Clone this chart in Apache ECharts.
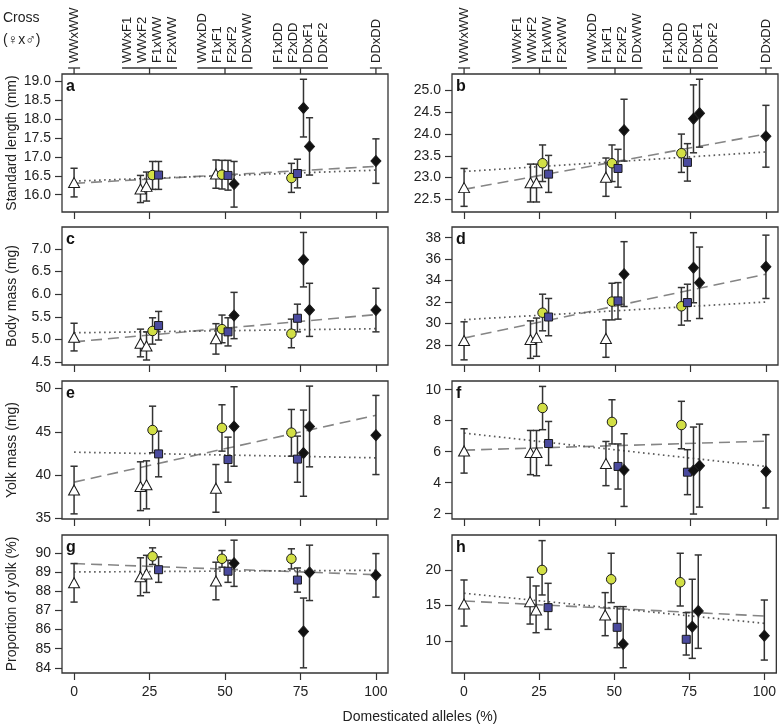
<!DOCTYPE html>
<html><head><meta charset="utf-8">
<script src="https://cdn.jsdelivr.net/npm/echarts@6/dist/echarts.min.js"></script>
<style>html,body{margin:0;padding:0;background:#fff}#c{width:779px;height:725px}</style>
</head><body><div id="c"></div><script>
// ---------- data ----------
const crosses = ['WWxWW','WWxF1','WWxF2','F1xWW','F2xWW','WWxDD','F1xF1','F2xF2','DDxWW','F1xDD','F2xDD','DDxF1','DDxF2','DDxDD'];
const xPos    = [0, 22, 24, 26, 28, 47, 49, 51, 53, 72, 74, 76, 78, 100];
const marker  = ['tri','tri','tri','circ','sq','tri','circ','sq','dia','circ','sq','dia','dia','dia'];
const xTicks  = [0, 25, 50, 75, 100];
const groupX  = [0, 25, 50, 75, 100];
const groupLabels = [['WWxWW'],['WWxF1','WWxF2','F1xWW','F2xWW'],['WWxDD','F1xF1','F2xF2','DDxWW'],['F1xDD','F2xDD','DDxF1','DDxF2'],['DDxDD']];
const trendX  = [0, 100];

// a: standard length (left)
const meanA = [16.32,16.15,16.22,16.52,16.52,16.55,16.53,16.51,16.28,16.44,16.56,18.30,17.28,16.89];
const lowA  = [15.94,15.79,15.83,16.14,16.14,16.17,16.15,16.12,15.67,16.06,16.18,17.53,16.52,16.30];
const highA = [16.70,16.51,16.60,16.88,16.88,16.92,16.91,16.91,16.88,16.83,16.94,19.06,18.04,17.48];
const dashA = [16.30,16.75], dotA = [16.36,16.65];
const ticksA = [16.0,16.5,17.0,17.5,18.0,18.5,19.0];
// b: standard length (right)
const meanB = [22.77,22.88,22.88,23.33,23.08,23.01,23.33,23.21,24.09,23.56,23.35,24.35,24.48,23.95];
const lowB  = [22.34,22.44,22.44,22.91,22.66,22.57,22.91,22.78,23.38,23.12,22.92,23.57,23.70,23.24];
const highB = [23.21,23.31,23.31,23.75,23.51,23.45,23.75,23.65,24.80,24.00,23.78,25.13,25.26,24.66];
const dashB = [22.73,24.00], dotB = [23.14,23.59];
const ticksB = [22.5,23.0,23.5,24.0,24.5,25.0];
// c: body mass (left)
const meanC = [5.05,4.92,4.86,5.19,5.31,5.02,5.23,5.17,5.53,5.13,5.47,6.76,5.65,5.65];
const lowC  = [4.75,4.62,4.55,4.90,4.99,4.68,4.93,4.86,5.02,4.82,5.17,6.16,5.07,5.17];
const highC = [5.36,5.23,5.17,5.48,5.62,5.35,5.54,5.48,6.04,5.45,5.78,7.36,6.24,6.13];
const dashC = [4.95,5.55], dotC = [5.15,5.24];
const ticksC = [4.5,5.0,5.5,6.0,6.5,7.0];
// d: body mass (right)
const meanD = [28.4,28.5,28.7,31.0,30.6,28.6,32.04,32.1,34.6,31.6,31.95,35.2,33.8,35.3];
const lowD  = [26.6,26.74,26.93,29.31,28.85,26.84,30.33,30.4,31.58,29.84,30.24,31.93,30.46,32.33];
const highD = [30.15,30.24,30.5,32.73,32.33,30.33,33.75,33.81,37.63,33.35,33.66,38.47,37.13,38.24];
const dashD = [28.63,34.6], dotD = [30.35,32.0];
const ticksD = [28,30,32,34,36,38];
// e: yolk mass (left)
const meanE = [38.3,38.7,38.9,45.2,42.45,38.5,45.45,41.8,45.6,44.9,41.85,42.55,45.6,44.6];
const lowE  = [35.54,35.92,36.12,42.58,39.81,35.73,42.77,39.19,41.03,42.19,39.19,37.57,40.96,40.07];
const highE = [41.03,41.54,41.65,47.95,45.07,41.23,48.11,44.38,50.19,47.57,44.5,47.5,50.26,49.19];
const dashE = [39.2,46.9], dotE = [42.65,42.0];
const ticksE = [35,40,45,50];
// f: yolk mass (right)
const meanF = [6.05,5.95,5.95,8.82,6.53,5.24,7.92,5.05,4.82,7.72,4.68,4.79,5.1,4.73];
const lowF  = [4.62,4.52,4.45,7.42,5.12,3.81,6.5,3.59,2.47,6.19,3.23,1.98,2.43,2.37];
const highF = [7.48,7.37,7.37,10.21,7.95,6.66,9.35,6.5,7.16,9.25,6.13,7.59,7.78,7.1];
const dashF = [6.1,6.68], dotF = [7.2,5.05];
const ticksF = [2,4,6,8,10];
// g: proportion of yolk (left)
const meanG = [88.44,88.75,88.9,89.82,89.12,88.53,89.69,89.04,89.46,89.69,88.58,85.9,88.98,88.83];
const lowG  = [87.43,87.76,87.93,89.39,88.46,87.55,89.25,88.46,88.25,89.16,87.95,84.0,87.51,87.69];
const highG = [89.44,89.74,89.87,90.26,89.79,89.51,90.12,89.61,90.66,90.21,89.21,87.64,90.4,89.96];
const dashG = [89.44,88.86], dotG = [89.0,89.09];
const ticksG = [84,85,86,87,88,89,90];
// h: proportion of yolk (right)
const meanH = [15.21,15.54,14.37,20.0,14.7,13.66,18.69,11.93,9.58,18.27,10.24,12.01,14.23,10.75];
const lowH  = [12.11,12.39,11.17,16.48,11.64,10.75,15.4,9.06,6.24,14.93,8.03,7.56,8.97,7.32];
const highH = [18.59,18.97,17.75,24.13,18.12,16.81,22.35,14.84,14.84,22.35,13.99,18.69,22.11,15.77];
const dashH = [15.63,13.52], dotH = [16.72,12.49];
const ticksH = [10,15,20];

const panelLetters = ['a','b','c','d','e','f','g','h'];
const yNames = ['Standard length (mm)','','Body mass (mg)','','Yolk mass (mg)','','Proportion of yolk (%)',''];
const xTitle = 'Domesticated alleles (%)';

// ---------- layout / style ----------
const FF = '"Liberation Sans", Arial, Helvetica, sans-serif';
const TXT = '#222';
const colLeft = [62, 452], plotW = 326;
const rowTop = [74, 227, 381, 535], plotH = 138;
const xRange = [-4, 104];
const yRanges = [[15.54,19.2],[22.21,25.38],[4.44,7.48],[26.12,39.0],[34.95,50.85],[1.66,10.56],[83.73,90.93],[5.5,24.92]];
const decs = [1,1,1,0,0,0,0,0];
const symMap = {tri:'triangle', circ:'circle', sq:'rect', dia:'diamond'};
const sizeMap = {tri:[11,10], circ:9.5, sq:8, dia:[10,11]};
const fillMap = {tri:'#ffffff', circ:'#d2df45', sq:'#4a4a9e', dia:'#111111'};

const panels = [
  {mean:meanA, low:lowA, high:highA, dash:dashA, dot:dotA, ticks:ticksA},
  {mean:meanB, low:lowB, high:highB, dash:dashB, dot:dotB, ticks:ticksB},
  {mean:meanC, low:lowC, high:highC, dash:dashC, dot:dotC, ticks:ticksC},
  {mean:meanD, low:lowD, high:highD, dash:dashD, dot:dotD, ticks:ticksD},
  {mean:meanE, low:lowE, high:highE, dash:dashE, dot:dotE, ticks:ticksE},
  {mean:meanF, low:lowF, high:highF, dash:dashF, dot:dotF, ticks:ticksF},
  {mean:meanG, low:lowG, high:highG, dash:dashG, dot:dotG, ticks:ticksG},
  {mean:meanH, low:lowH, high:highH, dash:dashH, dot:dotH, ticks:ticksH}
];

const grids = [], xAxes = [], yAxes = [], series = [], graphics = [];
const tickStyle = {color:'#333', width:1.2};

panels.forEach((p, k) => {
  const r = Math.floor(k / 2), c = k % 2;
  grids.push({left: colLeft[c], top: rowTop[r], width: plotW, height: plotH,
    show: true, borderColor: '#333', borderWidth: 1.3, backgroundColor: 'transparent'});
  xAxes.push({gridIndex:k, type:'value', min:xRange[0], max:xRange[1], position:'bottom',
    axisLine:{show:false, onZero:false}, splitLine:{show:false},
    axisTick:{show:true, inside:false, customValues:xTicks, length:7, lineStyle:tickStyle},
    axisLabel:{show: r === 3, customValues:xTicks, margin:12, fontSize:14, color:TXT, fontFamily:FF}});
  const dec = decs[k];
  yAxes.push({gridIndex:k, type:'value', min:yRanges[k][0], max:yRanges[k][1], position:'left',
    axisLine:{show:false, onZero:false}, splitLine:{show:false},
    axisTick:{show:true, inside:false, customValues:p.ticks, length:7, lineStyle:tickStyle},
    axisLabel:{customValues:p.ticks, formatter: v => Number(v).toFixed(dec), margin:11, fontSize:14, color:TXT, fontFamily:FF},
    name: yNames[k], nameLocation:'middle', nameGap:43, nameRotate:90,
    nameTextStyle:{fontSize:14, color:TXT, fontFamily:FF}});

  // trend lines
  series.push({type:'line', xAxisIndex:k, yAxisIndex:k, silent:true, symbol:'none', z:2,
    data: trendX.map((x, i) => [x, p.dash[i]]),
    lineStyle:{color:'#858585', width:1.6, type:[11,6]}});
  series.push({type:'line', xAxisIndex:k, yAxisIndex:k, silent:true, symbol:'none', z:2,
    data: trendX.map((x, i) => [x, p.dot[i]]),
    lineStyle:{color:'#5a5a5a', width:1.7, type:[1.6,3.4]}});

  // error bars
  series.push({type:'custom', xAxisIndex:k, yAxisIndex:k, silent:true, clip:false, z:3,
    data: xPos.map((x, i) => [x, p.low[i], p.high[i]]),
    encode:{x:0, y:[1,2]},
    renderItem: (params, api) => {
      const x = api.value(0);
      const lo = api.coord([x, api.value(1)]);
      const hi = api.coord([x, api.value(2)]);
      const st = {stroke:'#333', lineWidth:1.5};
      return {type:'group', children:[
        {type:'line', shape:{x1:lo[0], y1:lo[1], x2:hi[0], y2:hi[1]}, style:st},
        {type:'line', shape:{x1:lo[0]-3.6, y1:lo[1], x2:lo[0]+3.6, y2:lo[1]}, style:st},
        {type:'line', shape:{x1:hi[0]-3.6, y1:hi[1], x2:hi[0]+3.6, y2:hi[1]}, style:st}
      ]};
    }});

  // points
  series.push({type:'scatter', xAxisIndex:k, yAxisIndex:k, z:4, silent:true,
    data: xPos.map((x, i) => ({
      value:[x, p.mean[i]], name: crosses[i],
      symbol: symMap[marker[i]], symbolSize: sizeMap[marker[i]],
      itemStyle:{color: fillMap[marker[i]], borderColor:'#1a1a1a', borderWidth:1, opacity:1}
    }))});

  // panel letter
  graphics.push({type:'text', left: colLeft[c] + 4, top: rowTop[r] + 5,
    style:{text: panelLetters[k], font:'bold 16px ' + FF, fill:'#111'}});

  // top cross annotations on top row
  if (r === 0) {
    series.push({type:'custom', xAxisIndex:k, yAxisIndex:k, silent:true, clip:false, z:5,
      data: groupX.map((x, i) => [x, i]),
      encode:{x:0},
      renderItem: (params, api) => {
        const x = api.value(0), gi = api.value(1);
        const px = api.coord([x, yRanges[k][1]])[0];
        const top = params.coordSys.y;
        const labs = groupLabels[gi];
        const hw = labs.length > 1 ? 27.5 : 6;
        const st = {stroke:'#333', lineWidth:1.3};
        const ch = [
          {type:'line', shape:{x1:px, y1:top, x2:px, y2:top-6}, style:st},
          {type:'line', shape:{x1:px-hw, y1:top-6, x2:px+hw, y2:top-6}, style:st}
        ];
        labs.forEach((t, j) => {
          const cx = px + (j - (labs.length - 1) / 2) * 15;
          ch.push({type:'text', x:cx, y:top-11, rotation:Math.PI/2,
            style:{text:t, fill:TXT, font:'13px ' + FF, align:'left', verticalAlign:'middle'}});
        });
        return {type:'group', children:ch};
      }});
  }
});

graphics.push({type:'text', left:3, top:11, style:{text:'Cross', font:'14px ' + FF, fill:TXT}});
graphics.push({type:'text', left:3, top:33, style:{text:'(\u2640x\u2642)', font:'14px ' + FF, fill:TXT}});
graphics.push({type:'text', x:420, y:717, style:{text:xTitle, font:'14px ' + FF, fill:TXT, align:'center', verticalAlign:'middle'}});

const chart = echarts.init(document.getElementById('c'), null, {renderer:'canvas'});
chart.setOption({
  animation:false,
  backgroundColor:'#ffffff',
  textStyle:{fontFamily:FF},
  grid: grids, xAxis: xAxes, yAxis: yAxes, series: series, graphic: graphics
});
</script></body></html>
